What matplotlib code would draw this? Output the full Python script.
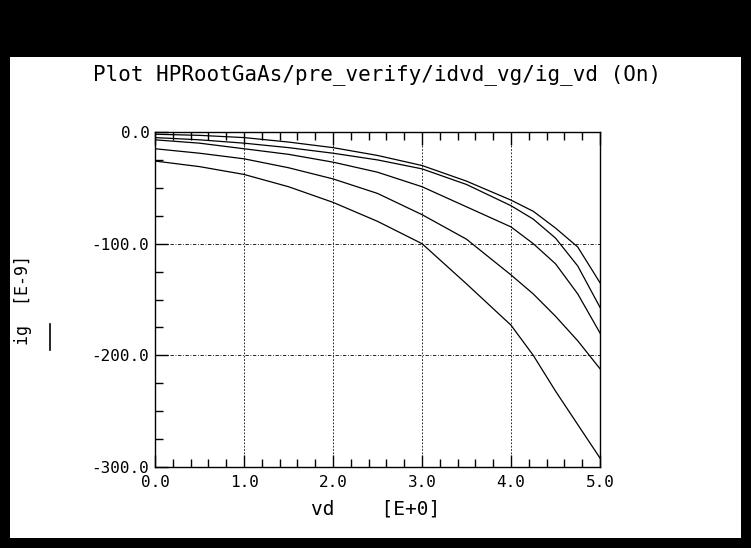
import matplotlib
matplotlib.use("Agg")
import matplotlib.pyplot as plt
from matplotlib.patches import Rectangle
from matplotlib.lines import Line2D
from matplotlib.ticker import MultipleLocator

# drain voltage (V)
vd = [0.0, 0.5, 1.0, 1.5, 2.0, 2.5, 3.0, 3.5, 4.0, 4.25, 4.5, 4.75, 5.0]

# gate current ig [E-9] for each gate-voltage step
ig_1 = [-26, -31, -38, -49, -63, -80, -100, -136, -173, -200, -232, -262, -292]
ig_2 = [-15, -19, -24, -32, -42, -55, -74, -96, -128, -145, -165, -187, -212]
ig_3 = [-7, -10, -15, -20, -27, -36, -49, -67, -85, -100, -118, -145, -180]
ig_4 = [-5, -7, -10, -14, -19, -25, -33, -47, -66, -78, -95, -120, -157]
ig_5 = [-2, -3, -5, -9, -14, -21, -30, -44, -61, -71, -86, -103, -135]

x_ticks = [0.0, 1.0, 2.0, 3.0, 4.0, 5.0]
x_labels = ["0.0", "1.0", "2.0", "3.0", "4.0", "5.0"]
y_ticks = [0.0, -100.0, -200.0, -300.0]
y_labels = ["0.0", "-100.0", "-200.0", "-300.0"]

title = "Plot HPRootGaAs/pre_verify/idvd_vg/ig_vd (On)"
mono = "DejaVu Sans Mono"

fig = plt.figure(figsize=(7.51, 5.48), dpi=100, facecolor="black")

# white plotting panel inside the black frame
fig.patches.append(Rectangle((10 / 751, 10 / 548), 731 / 751, 481 / 548,
                             transform=fig.transFigure, facecolor="white",
                             edgecolor="none", zorder=-5))

ax = fig.add_axes([155 / 751, 1 - 467 / 548, 445 / 751, 335 / 548])
ax.set_facecolor("white")

for ig in [ig_1, ig_2, ig_3, ig_4, ig_5]:
    ax.plot(vd, ig, color="black", lw=0.9)

ax.set_xlim(0, 5)
ax.set_ylim(-300, 0)
ax.set_xticks(x_ticks)
ax.set_xticklabels(x_labels, family=mono, fontsize=11.5)
ax.set_yticks(y_ticks)
ax.set_yticklabels(y_labels, family=mono, fontsize=11.5)
ax.xaxis.set_minor_locator(MultipleLocator(0.2))
ax.yaxis.set_minor_locator(MultipleLocator(25))
ax.tick_params(which="both", direction="in", top=True, right=False,
               width=1, color="black")
ax.tick_params(axis="x", pad=6)
ax.tick_params(axis="y", pad=4)
ax.tick_params(which="major", length=9)
ax.tick_params(which="minor", length=6)

for v in x_ticks[1:-1]:
    ax.axvline(v, color="black", lw=0.6, ls=(0, (2, 2)), zorder=0)
for v in y_ticks[1:-1]:
    ax.axhline(v, color="black", lw=0.6, ls=(0, (4, 2, 1, 2)), zorder=0)

for s in ax.spines.values():
    s.set_linewidth(1)
    s.set_color("black")

fig.text(377 / 751, 1 - 75 / 548, title, family=mono, fontsize=15,
         ha="center", va="center", color="black")
fig.text(376 / 751, 1 - 509 / 548, "vd    [E+0]", family=mono, fontsize=14,
         ha="center", va="center", color="black")
fig.text(23 / 751, 1 - 300 / 548, "ig  [E-9]", family=mono, fontsize=12,
         ha="center", va="center", rotation=90, color="black")
fig.lines.append(Line2D([50 / 751, 50 / 751], [1 - 350 / 548, 1 - 324 / 548],
                        transform=fig.transFigure, color="black", lw=1.2))

fig.savefig("out.png", dpi=100, facecolor="black")
